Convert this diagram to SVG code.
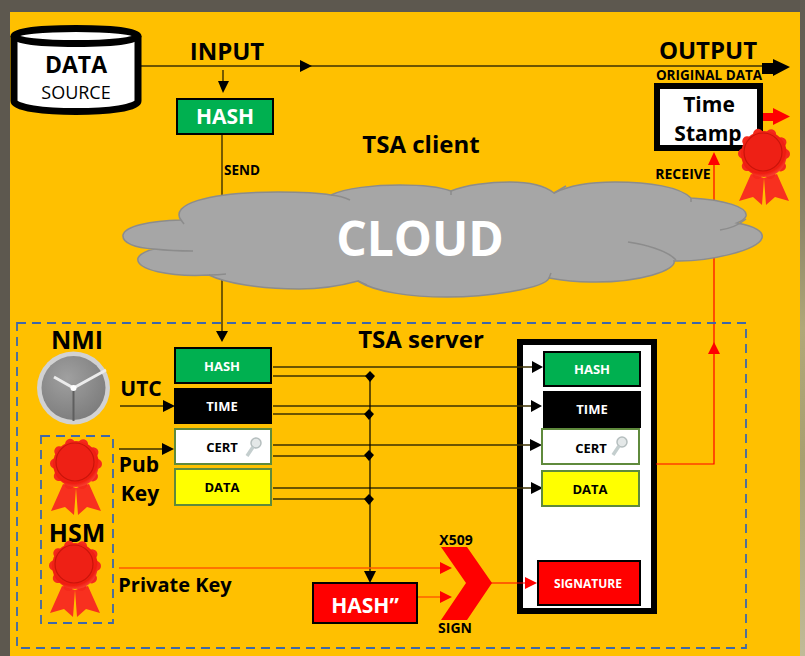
<svg xmlns="http://www.w3.org/2000/svg" xmlns:xlink="http://www.w3.org/1999/xlink" width="805" height="656" viewBox="0 0 805 656">
<style>
text{font-family:"Open Sans","Noto Sans","Liberation Sans",sans-serif;font-weight:700;text-anchor:middle;fill:#000}
.w{fill:#fff}
.c{stroke:#3d3000;stroke-width:1.4;fill:none}
.k{stroke:#000;stroke-width:1.2;fill:none}
.r{stroke:#ff0000;stroke-width:1.2;fill:none}
.o{stroke:#ff5a00;stroke-width:1.4;fill:none}
.d{stroke:#3f68a8;stroke-width:1.8;stroke-dasharray:9 6;fill:none}
.bk{fill:#000}.rd{fill:#ff0000}
</style>
<defs>
<linearGradient id="side" x1="0" x2="0" y1="0" y2="1"><stop offset="0" stop-color="#5f5b52"/><stop offset="0.2" stop-color="#6d675a"/><stop offset="0.5" stop-color="#b0a878"/><stop offset="0.7" stop-color="#a8a070"/><stop offset="1" stop-color="#c0bb98"/></linearGradient>
<radialGradient id="wax" cx="0.45" cy="0.4" r="0.65"><stop offset="0" stop-color="#ff3a28"/><stop offset="0.8" stop-color="#ee1c10"/><stop offset="1" stop-color="#ff5040"/></radialGradient>
<radialGradient id="dial" cx="0.4" cy="0.35" r="0.8"><stop offset="0" stop-color="#a0a0a0"/><stop offset="1" stop-color="#777"/></radialGradient>
<g id="seal">
<path d="M-13 20L-25 47L-11 43L-2 51L0 24ZM13 20L25 47L11 43L2 51L0 24Z" fill="#f8301f"/>
<circle r="21" fill="#f0251a" stroke="#f4291c" stroke-width="10" stroke-linecap="round" stroke-dasharray="0.01 13.18"/>
<circle r="23" fill="url(#wax)"/>
<circle cx="-1" cy="-2" r="19" fill="#ee2015" stroke="#c9140a" stroke-width="1.2"/>
</g>
<g id="key"><circle cx="6" cy="-6" r="5" fill="#e4e8e8" stroke="#b5bebe" stroke-width="1.5"/><path d="M3 -2L-3 7" stroke="#c4cece" stroke-width="3.5" fill="none"/></g>
</defs>

<rect width="805" height="656" fill="#5d584f"/>
<rect x="800" y="0" width="5" height="656" fill="url(#side)"/>
<rect x="10" y="12" width="790" height="644" fill="#ffc000"/>

<g id="tsa-box"><rect x="520" y="342" width="134" height="269" fill="#fff" stroke="#000" stroke-width="6"/></g>

<g id="connectors">
<path class="c" d="M141 66H770"/>
<path class="bk" d="M300 60L312 66L300 72Z"/>
<path class="bk" d="M762 63H773V59L790 67L773 76V74H762Z"/>
<path class="c" d="M223 70V84"/><path class="bk" d="M218 81H229L223 93Z"/>
<path class="c" d="M222 134V333"/><path class="bk" d="M216 331H228L222 342Z"/>
<path class="r" d="M714 351V160"/><path class="rd" d="M708 165L714 152L720 165Z"/>
<path class="rd" d="M763 113H773V108L790 116.500L773 125V121H763Z"/>
<path class="r" d="M656 464H714V351"/><path class="rd" d="M708 354L714 342L720 354Z"/>
<path class="c" d="M120 406H166"/><path class="bk" d="M163 400L175 406L163 412Z"/>
<path class="c" d="M119 449H166"/><path class="bk" d="M162 443L174 449L162 455Z"/>
<path class="c" d="M273 367H532M273 376H370M273 406H532M273 414H370M273 445H532M273 456H370M273 488H532M273 499H370"/>
<path class="bk" d="M532 361L543 367L532 373ZM531 400L542 406L531 412ZM530 439L542 445L530 451ZM531 482L543 488L531 494Z"/>
<path class="bk" d="M370 371L375 376L370 382L365 376ZM369 409L374 414L369 420L364 414ZM369 450L374 455L369 461L364 455ZM369 494L374 499L369 505L364 499Z"/>
<path class="k" d="M370 376V572"/><path class="bk" d="M364 571H376L370 583Z"/>
<path class="o" d="M119 568H442"/><path class="rd" d="M440 562L452 568L440 574Z"/>
<path class="o" d="M417 597H441"/><path class="rd" d="M440 591L452 597L440 603Z"/>
<path class="r" d="M491 583H526"/><path class="rd" d="M525 577L537 583L525 589Z"/>
</g>

<g id="data-source">
<path d="M14 36C14 26 138 26 138 36V101C138 115 14 115 14 101Z" fill="#fff" stroke="#000" stroke-width="7"/>
<path d="M14 36C14 46 138 46 138 36" fill="none" stroke="#000" stroke-width="7"/>
<text x="76" y="73" font-size="23">DATA</text>
<text x="76" y="99" font-size="18" style="font-weight:400">SOURCE</text>
</g>
<text x="227" y="60" font-size="24">INPUT</text>
<text x="708" y="59" font-size="24">OUTPUT</text>
<text x="709" y="80" font-size="13.500">ORIGINAL DATA</text>
<text x="242" y="175" font-size="13.500">SEND</text>
<text x="683" y="179" font-size="14">RECEIVE</text>
<text x="421" y="153" font-size="24">TSA client</text>

<g id="hash-client"><rect x="177" y="99" width="96" height="35" fill="#00b050" stroke="#000" stroke-width="2"/><text class="w" x="225" y="124" font-size="21">HASH</text></g>

<g id="timestamp">
<rect x="657" y="86" width="103" height="62" fill="#fff" stroke="#000" stroke-width="6"/>
<text x="709" y="112" font-size="21">Time</text>
<text x="708" y="141" font-size="21">Stamp</text>
<use xlink:href="#seal" href="#seal" x="764" y="154"/>
</g>

<g id="cloud">
<path d="M181 220C170 205 205 192 278 192C300 192 320 193 331 195C345 188 375 185 400 185C420 185 440 187 451 191C465 185 490 182 510 182C530 182 545 186 554 193C570 185 590 182 615 182C650 182 680 187 691 198C725 200 748 207 746 216C745 219 742 221 737 223C755 226 764 232 762 238C758 250 710 262 674 261C677 270 640 283 590 282C575 282 560 280 549 278C545 288 490 297 447 297C410 297 375 292 358 281C340 286 320 289 299 289C260 289 225 283 209 275C170 277 135 270 138 258C140 254 146 251 154 249C135 248 122 243 123 235C125 226 150 221 181 220Z" fill="#a6a6a6" stroke="#8c8c8c" stroke-width="1.5"/>
<path d="M331 195Q342 196 350 200M451 191L451 195M554 193L566 186M691 198V202M720 230Q735 228 746 219M628 242Q665 248 676 260M154 249Q172 251 193 251M209 275Q218 275 226 274M358 281Q362 283 367 285M549 278L551 273M181 220L184 224" fill="none" stroke="#8c8c8c" stroke-width="1.5"/>
<text class="w" x="420" y="256" font-size="48">CLOUD</text>
</g>

<rect class="d" x="17" y="323" width="729" height="325"/>
<rect class="d" x="41" y="436" width="72" height="187"/>
<text x="421" y="348" font-size="24">TSA server</text>
<text x="77" y="349" font-size="25">NMI</text>
<text x="77" y="542" font-size="25">HSM</text>
<text x="141" y="396" font-size="21">UTC</text>
<text x="139" y="472" font-size="21">Pub</text>
<text x="140" y="501" font-size="21">Key</text>
<text x="175" y="592" font-size="20">Private Key</text>

<g id="clock">
<circle cx="73.500" cy="388" r="36.500" fill="#d2d2d2"/>
<circle cx="73.500" cy="388" r="32" fill="url(#dial)"/>
<path d="M73.500 388L106 370M73.500 388L54 377" stroke="#ececec" stroke-width="3" fill="none"/>
<path d="M73.500 388V421" stroke="#5f5f5f" stroke-width="2" fill="none"/>
<circle cx="73.500" cy="388" r="3" fill="#fff"/>
</g>
<use id="seal-pub" xlink:href="#seal" href="#seal" x="76" y="464"/>
<use id="seal-private" xlink:href="#seal" href="#seal" x="75" y="566"/>

<g id="hash-left"><rect x="175" y="348" width="96" height="35" fill="#00b050" stroke="#000" stroke-width="2"/><text class="w" x="222" y="371" font-size="13">HASH</text></g>
<g id="time-left"><rect x="174" y="388" width="98" height="36" fill="#000"/><text class="w" x="222" y="411" font-size="13">TIME</text></g>
<g id="cert-left"><rect x="175" y="429" width="96" height="35" fill="#fff" stroke="#5f8a3c" stroke-width="2"/><text x="222" y="452" font-size="13">CERT</text><use xlink:href="#key" href="#key" x="250" y="449"/></g>
<g id="data-left"><rect x="175" y="469" width="96" height="36" fill="#ff0" stroke="#5f8a3c" stroke-width="2"/><text x="222" y="492" font-size="13">DATA</text></g>

<g id="hash-right"><rect x="544" y="352" width="96" height="34" fill="#00b050" stroke="#000" stroke-width="2"/><text class="w" x="592" y="374" font-size="13">HASH</text></g>
<g id="time-right"><rect x="543" y="391" width="98" height="37" fill="#000"/><text class="w" x="592" y="414" font-size="13">TIME</text></g>
<g id="cert-right"><rect x="542" y="429" width="97" height="35" fill="#fff" stroke="#5f8a3c" stroke-width="2"/><text x="591" y="453" font-size="13">CERT</text><use xlink:href="#key" href="#key" x="616" y="448"/></g>
<g id="data-right"><rect x="542" y="471" width="97" height="35" fill="#ff0" stroke="#5f8a3c" stroke-width="2"/><text x="590" y="494" font-size="13">DATA</text></g>
<g id="signature"><rect x="538" y="561" width="102" height="44" fill="#ff0000" stroke="#000" stroke-width="2"/><text class="w" x="588" y="588" font-size="12">SIGNATURE</text></g>

<g id="hash2"><rect x="313" y="583" width="104" height="40" fill="#ff0000" stroke="#000" stroke-width="2"/><text class="w" x="365" y="613" font-size="21">HASH”</text></g>
<g id="x509"><path d="M441 547H467L492 583L467 620H441L466 583Z" fill="#ff0000"/></g>
<text x="456" y="545" font-size="14">X509</text>
<text x="455" y="633" font-size="14">SIGN</text>
</svg>
